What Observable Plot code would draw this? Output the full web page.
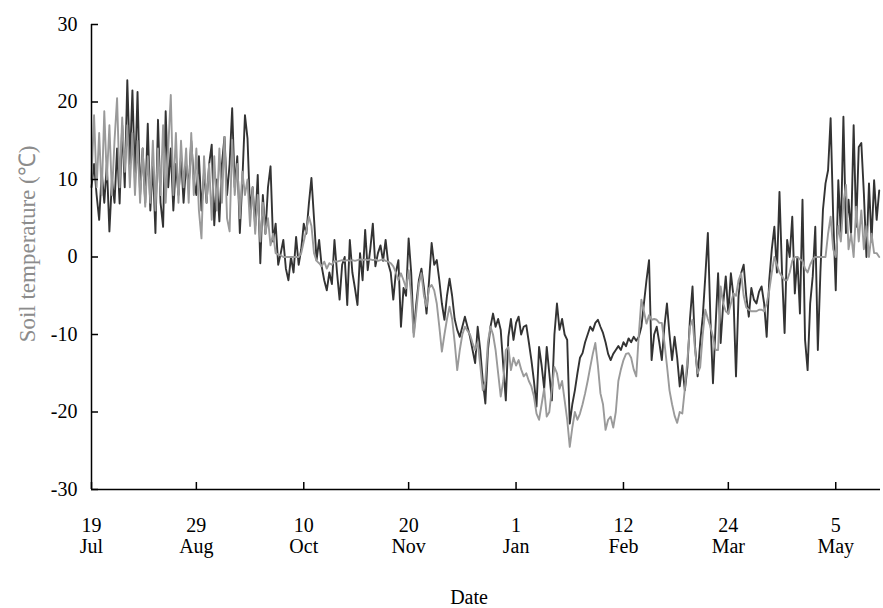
<!DOCTYPE html>
<html><head><meta charset="utf-8">
<script src="https://cdn.jsdelivr.net/npm/d3@7"></script>
<script src="https://cdn.jsdelivr.net/npm/@observablehq/plot@0.6"></script>
<style>body{margin:0;background:#fff}</style>
</head><body><div id="chart"></div>
<script>
// Daily soil temperature readings (°C), one value per day starting at startDate
const startDate = "2011-07-19";
const darkSeries = [
  9, 12, 8, 4.8, 11, 7, 12, 3.3, 10, 7,
  14, 6.9, 17, 9, 22.8, 12, 21.5, 10, 21.3, 8,
  14, 7, 17.2, 6, 12, 3.1, 17.7, 7, 3.9, 18.8,
  9, 14, 6, 12, 8, 13, 7, 12, 9, 15,
  10, 8, 13, 6, 11, 7, 12, 14.5, 4.1, 10,
  4.6, 12, 15.5, 8, 12, 19.2, 9, 13, 3.1, 10,
  18.3, 15.3, 6, 9, 4, 10.6, -0.8, 8, 3, 9,
  11.7, 2, 4.3, -1, 0.5, 2.2, -1.5, -3, 0, -2,
  2.6, -1, 1, 4.3, 3, 6.9, 10.2, 5, -0.4, 2.2,
  -1.2, -3, -4.3, -2, -3.5, 2.2, -2, -5.5, -1, 0,
  -6.2, 2.2, -2, -4, -6.2, 0.5, -3, 3.5, -1.7, 1,
  4.3, -1.2, 0.5, 1.5, -0.5, 2.2, -0.8, -2, -5.5, -2,
  -0.4, -9, -4, -5, 2.4, -2, -9.8, -6, -3, -1.5,
  -4, -7.3, -3, 1.8, -1, -0.4, -3, -6, -8.1, -5,
  -2.8, -5, -8, -9.4, -10.3, -9, -7.7, -9, -10.3, -12,
  -13.7, -9, -12, -16, -18.9, -12, -9, -7.3, -9, -8,
  -9.4, -14, -18.5, -10.3, -8, -10.7, -8.5, -7.7, -10, -9,
  -8.8, -11, -13.3, -16, -19.3, -11.6, -14, -17, -11.6, -15,
  -18.5, -10, -6, -9.4, -8, -10, -10.7, -21.5, -19, -17.2,
  -15, -13, -12.4, -11, -10, -9, -9.5, -8.5, -8.1, -9,
  -9.8, -11, -12.5, -13.3, -12.5, -12, -11.5, -12, -11, -11.5,
  -10.5, -11, -10.3, -10.8, -10.3, -9, -6, -3, -0.4, -13.3,
  -10, -9, -11, -13.3, -9, -6, -10, -13.3, -10.3, -13,
  -16.7, -14, -17.2, -14.2, -8, -3.8, -11.6, -15.4, -11, -7.7,
  -2.5, 3.1, -8, -16.3, -9, -2.1, -11.1, -6, -2.5, -7.3,
  -2.1, -5, -15.4, -5, -2.1, -1, -5, -7.7, -4, -5.5,
  -6, -4.5, -3.8, -6, -10.3, -3, 1, 3.9, -2, 8.4,
  -2, -9.8, 2.2, 0, 5.2, -4.7, 0, -7.3, 7.4, -10.7,
  -14.6, -6, -2.5, 3.9, -12, -2, 6.1, 9.5, 11.2, 17.9,
  5.2, -4.3, 9.9, 3, 18.1, 3.1, 7.4, 3, 17, 3.9,
  14.2, 14.7, 8.2, 0, 9.5, 2, 9.9, 4.8, 8.6
];
const graySeries = [
  10, 18.3, 9, 16, 8, 18.8, 10, 17, 8, 15,
  20.5, 9, 18, 11, 17, 9, 16, 8, 15, 7,
  14, 6.5, 13, 7, 15, 6, 14, 8, 17, 7,
  14, 20.9, 8, 16, 7, 15, 9, 14, 7, 16,
  8, 14, 6, 2.4, 13, 7, 12, 4.8, 13, 6,
  14, 7, 15.5, 5, 3.3, 15.1, 8, 12, 5, 11,
  8, 10, 4, 9, 3, 8, 2, 7, 3, 5,
  1.5, 3, 0.5, 0.3, 0.2, 0, 0, 0, 0, 0,
  0, 0, 0.5, 2, 3.5, 5.2, 4, 0.5, -0.5, -0.8,
  -1.2, -0.6, -1.5, -0.8, -1, -0.5, -0.6, -0.5, -0.4, -0.5,
  -0.4, -0.5, -0.4, -0.5, -0.4, -0.3, -0.4, -0.3, -0.4, -0.3,
  -0.4, -0.3, -0.5, -0.4, -0.3, -0.5, -0.6, -0.8, -1.2, -2,
  -3, -2.1, -3, -4, -1.7, -5, -10.3, -7, -3.5, -2.1,
  -5, -6.4, -4, -3.6, -4.3, -6, -9, -12.2, -10, -8,
  -6.4, -8, -11, -14.6, -12, -10, -9, -9.5, -10, -11.1,
  -12, -11, -14, -17.2, -16, -11, -9, -10, -12, -15,
  -18, -16, -12, -11.6, -14.6, -13, -14, -13.3, -14.5, -15.4,
  -15, -16, -16.7, -18, -20.2, -21, -19, -17, -20.6, -20,
  -17, -14.2, -15, -17, -16, -18.5, -21, -24.5, -22, -20,
  -21, -20.2, -19, -17.6, -16, -14.2, -12.5, -11.1, -14, -17.6,
  -19, -22.3, -21, -20.6, -22, -20, -16, -14.5, -13.3, -12.5,
  -12.4, -13, -14.5, -15.4, -10, -5.5, -7, -8.6, -7.5, -8.1,
  -8, -8.1, -8.5, -8.5, -11, -14, -17.2, -19, -20.5, -21.4,
  -20, -20.2, -17, -13.3, -9, -8.1, -12, -15, -14.2, -10,
  -6.8, -8, -9, -10.3, -12, -12, -3.8, -6, -7, -7.3,
  -6, -4.7, -5, -3, -2.1, -5, -6.5, -6.8, -7, -7,
  -7, -6.8, -6.8, -7, -6, -4.3, -2, 0, -1, -2,
  -2.5, -3, -3, -2, -0.5, 0, 0, -0.3, -0.5, -1.5,
  -2, -1, -0.3, 0, 0, 0, 0, 0, 3, 5.2,
  1, 0, 4, 2, 7, 9.3, 1, 3, 0, 6.5,
  2, 6, 1, 4, 0, 3, 0.5, 0.5, 0
];
const xTickDates = ["2011-07-19","2011-08-29","2011-10-10","2011-11-20","2012-01-01","2012-02-12","2012-03-24","2012-05-05"];
const xTickLabels = ["19\nJul","29\nAug","10\nOct","20\nNov","1\nJan","12\nFeb","24\nMar","5\nMay"];
const yTicks = [-30, -20, -10, 0, 10, 20, 30];
const yTickLabels = ["-30", "-20", "-10", "0", "10", "20", "30"];
const xLabel = "Date";
const yLabel = "Soil temperature (℃)";

const DAY = 864e5;
const t0 = new Date(startDate + "T00:00:00Z");
const toRows = (arr, s) => arr.map((v, i) => ({date: new Date(+t0 + i * DAY), temp: v, series: s}));
const dark = toRows(darkSeries, "dark");
const gray = toRows(graySeries, "gray");
const xt = xTickDates.map(s => new Date(s + "T00:00:00Z"));
const xEnd = new Date(+t0 + (darkSeries.length - 0.5) * DAY);

const W = 883, H = 608, ML = 91, MR = 3, MT = 24, MB = 119;
const chart = Plot.plot({
  width: W, height: H,
  marginLeft: ML, marginRight: MR, marginTop: MT, marginBottom: MB,
  style: {fontFamily: "'Liberation Serif','Times New Roman',serif", fontSize: "20px", color: "#000", background: "#fff"},
  x: {type: "utc", domain: [t0, xEnd]},
  y: {domain: [-30, 30]},
  marks: [
    Plot.line(dark, {x: "date", y: "temp", stroke: "#333333", strokeWidth: 1.9}),
    Plot.line(gray, {x: "date", y: "temp", stroke: "#9a9a9a", strokeWidth: 1.9}),
    Plot.ruleY([-30], {stroke: "#000", strokeWidth: 1.5}),
    Plot.ruleX([t0], {stroke: "#000", strokeWidth: 1.5}),
    Plot.ruleY(yTicks, {stroke: "#000", strokeWidth: 1.5, insetRight: (W - ML - MR) - 7}),
    Plot.ruleX(xt, {stroke: "#000", strokeWidth: 1.5, insetTop: (H - MT - MB) - 7}),
    Plot.axisY({ticks: yTicks, tickFormat: d => yTickLabels[yTicks.indexOf(d)], tickSize: 0, tickPadding: 14, label: null, fontSize: 20}),
    Plot.axisX({ticks: xt, tickFormat: d => xTickLabels[xt.findIndex(t => +t === +d)], tickSize: 0, tickPadding: 28, lineHeight: 1.05, label: null, fontSize: 20}),
    Plot.text([xLabel], {text: d => d, frameAnchor: "bottom", dx: -17, dy: 114, fontSize: 20, fill: "#000"}),
    Plot.text([yLabel], {text: d => d, frameAnchor: "left", textAnchor: "middle", dx: -64, dy: -13, rotate: -90, fontSize: 23, fill: "#8c8c8c"})
  ]
});
document.getElementById("chart").appendChild(chart);
</script>
</body></html>
